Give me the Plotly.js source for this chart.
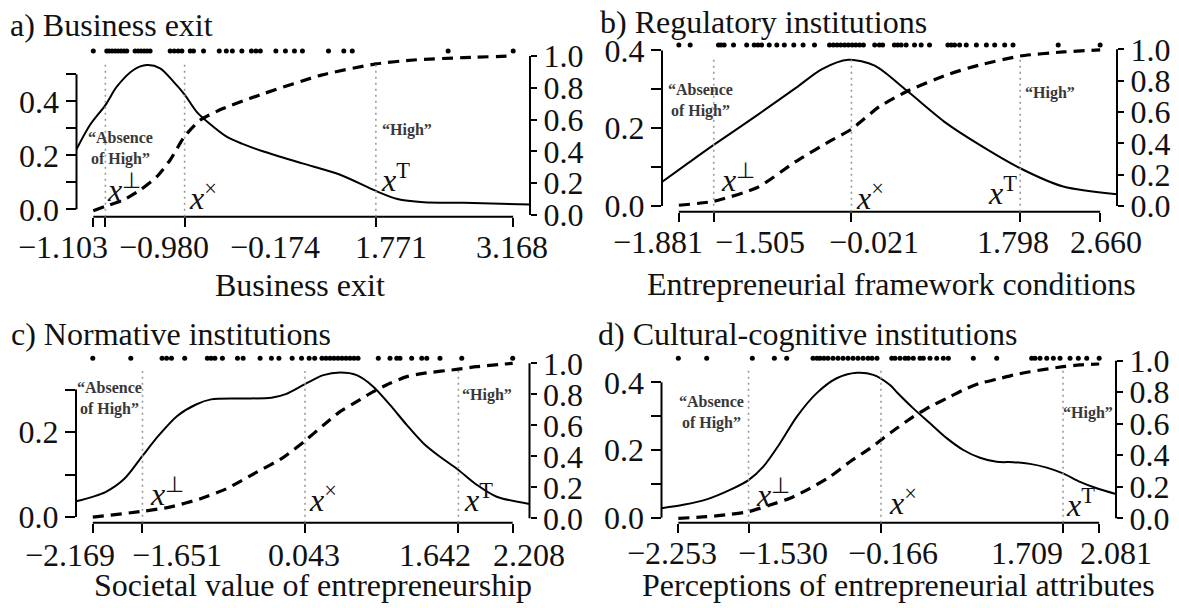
<!DOCTYPE html>
<html>
<head>
<meta charset="utf-8">
<script src="https://cdn.plot.ly/plotly-3.0.1.min.js"></script>
<style>
html, body { margin: 0; padding: 0; background: #ffffff; }
#chart { width: 1179px; height: 608px; }
</style>
</head>
<body>
<div id="chart"></div>
<script>
// ------------------------------------------------------------------ data
const panelTitles = ['a) Business exit', 'b) Regulatory institutions', 'c) Normative institutions', 'd) Cultural-cognitive institutions'];
const xAxisTitles = ['Business exit', 'Entrepreneurial framework conditions', 'Societal value of entrepreneurship', 'Perceptions of entrepreneurial attributes'];

// x ticks: minimum, x⊥ ("absence of high"), x× (crossover), xT ("high"), maximum
const ticksA = [-1.103, -0.980, -0.174, 1.771, 3.168];
const ticksB = [-1.881, -1.505, -0.021, 1.798, 2.660];
const ticksC = [-2.169, -1.651, 0.043, 1.642, 2.208];
const ticksD = [-2.253, -1.530, -0.166, 1.709, 2.081];
const tickLabelsA = ['\u22121.103', '\u22120.980', '\u22120.174', '1.771', '3.168'];
const tickLabelsB = ['\u22121.881', '\u22121.505', '\u22120.021', '1.798', '2.660'];
const tickLabelsC = ['\u22122.169', '\u22121.651', '0.043', '1.642', '2.208'];
const tickLabelsD = ['\u22122.253', '\u22121.530', '\u22120.166', '1.709', '2.081'];

// left axis (density): labelled ticks and unlabelled minor ticks
const densMajorA = [0, 0.2, 0.4];
const densMinorA = [0.1, 0.3, 0.5];
const densMajorB = [0, 0.2, 0.4];
const densMinorB = [0.1, 0.3];
const densMajorC = [0, 0.2];
const densMinorC = [0.1, 0.3];
const densMajorD = [0, 0.2, 0.4];
const densMinorD = [0.1, 0.3];
const densMajorLabels = ['0.0', '0.2', '0.4'];
// right axis (cumulative) ticks
const cdfTicks = [0, 0.2, 0.4, 0.6, 0.8, 1.0];
const cdfTickLabels = ['0.0', '0.2', '0.4', '0.6', '0.8', '1.0'];

// density curves
const densXA = [-1.274, -1.137, -0.980, -0.864, -0.695, -0.559, -0.423, -0.288, -0.174, -0.049, 0.087, 0.257, 0.408, 0.637, 1.024, 1.408, 1.771, 1.990, 2.258, 2.666, 3.339];
const densYA = [0.222, 0.312, 0.386, 0.454, 0.516, 0.534, 0.522, 0.473, 0.425, 0.360, 0.315, 0.268, 0.243, 0.213, 0.170, 0.128, 0.068, 0.038, 0.026, 0.024, 0.018];
const densXB = [-2.063, -1.800, -1.505, -1.028, -0.623, -0.338, -0.054, 0.230, 0.569, 1.001, 1.361, 1.798, 2.262, 2.842];
const densYB = [0.062, 0.107, 0.157, 0.235, 0.303, 0.352, 0.376, 0.361, 0.298, 0.213, 0.157, 0.097, 0.050, 0.030];
const densXC = [-2.344, -2.037, -1.840, -1.651, -1.486, -1.289, -1.093, -0.936, -0.622, -0.307, -0.150, 0.043, 0.234, 0.408, 0.582, 0.755, 0.929, 1.103, 1.276, 1.450, 1.642, 1.833, 2.041, 2.383];
const densYC = [0.037, 0.059, 0.090, 0.144, 0.191, 0.238, 0.265, 0.277, 0.279, 0.281, 0.290, 0.313, 0.334, 0.340, 0.334, 0.307, 0.264, 0.217, 0.174, 0.142, 0.111, 0.076, 0.048, 0.031];
const densXD = [-2.426, -2.202, -1.961, -1.721, -1.530, -1.378, -1.206, -1.034, -0.828, -0.622, -0.416, -0.245, -0.073, 0.000, 0.167, 0.339, 0.511, 0.682, 0.854, 1.026, 1.197, 1.369, 1.541, 1.709, 1.884, 2.056, 2.254];
const densYD = [0.028, 0.038, 0.054, 0.082, 0.111, 0.151, 0.220, 0.298, 0.368, 0.412, 0.428, 0.422, 0.392, 0.370, 0.323, 0.279, 0.235, 0.200, 0.177, 0.165, 0.164, 0.159, 0.148, 0.131, 0.106, 0.087, 0.070];

// cumulative curves
const cdfXA = [-1.103, -0.980, -0.797, -0.627, -0.457, -0.321, -0.174, -0.015, 0.222, 0.494, 0.637, 1.216, 1.771, 2.156, 2.666, 3.168];
const cdfYA = [0.027, 0.055, 0.094, 0.157, 0.241, 0.346, 0.495, 0.597, 0.671, 0.734, 0.765, 0.880, 0.950, 0.975, 0.990, 1.000];
const cdfXB = [-1.881, -1.505, -1.028, -0.623, -0.257, -0.021, 0.280, 0.569, 1.001, 1.361, 1.798, 2.262, 2.660];
const cdfYB = [0.005, 0.030, 0.120, 0.283, 0.412, 0.490, 0.634, 0.729, 0.836, 0.900, 0.957, 0.983, 0.996];
const cdfXC = [-2.169, -1.651, -1.368, -1.054, -0.778, -0.465, -0.189, 0.043, 0.234, 0.408, 0.582, 0.755, 0.929, 1.103, 1.276, 1.642, 1.833, 2.208];
const cdfYC = [0.008, 0.045, 0.072, 0.125, 0.190, 0.296, 0.390, 0.500, 0.600, 0.688, 0.752, 0.817, 0.871, 0.914, 0.935, 0.962, 0.978, 1.000];
const cdfXD = [-2.253, -1.961, -1.721, -1.530, -1.309, -1.103, -0.897, -0.691, -0.485, -0.279, -0.166, -0.004, 0.167, 0.339, 0.511, 0.682, 0.854, 1.026, 1.197, 1.369, 1.709, 1.884, 2.081];
const cdfYD = [0.000, 0.010, 0.025, 0.042, 0.084, 0.127, 0.190, 0.264, 0.359, 0.444, 0.497, 0.571, 0.645, 0.708, 0.761, 0.814, 0.857, 0.882, 0.909, 0.930, 0.962, 0.973, 0.979];

// observations (rug of dots along the top)
const rugA = [-1.103, -0.966, -0.942, -0.912, -0.881, -0.851, -0.820, -0.790, -0.763, -0.678, -0.647, -0.617, -0.586, -0.556, -0.525, -0.321, -0.280, -0.240, -0.202, -0.117, -0.084, 0.018, 0.178, 0.250, 0.311, 0.408, 0.505, 0.551, 0.596, 0.754, 0.851, 0.943, 1.024, 1.289, 1.445, 1.531, 2.506, 3.168];
const rugB = [-1.881, -1.759, -1.454, -1.426, -1.393, -1.292, -1.150, -1.069, -1.028, -0.988, -0.907, -0.825, -0.744, -0.642, -0.542, -0.419, -0.257, -0.216, -0.176, -0.135, -0.094, -0.054, -0.013, 0.027, 0.068, 0.108, 0.230, 0.280, 0.316, 0.442, 0.478, 0.515, 0.569, 0.659, 0.731, 0.821, 1.019, 1.055, 1.091, 1.145, 1.217, 1.326, 1.434, 1.523, 1.631, 1.721, 2.208, 2.660];
const rugC = [-2.169, -1.773, -1.447, -1.400, -1.349, -1.211, -0.975, -0.936, -0.896, -0.818, -0.661, -0.602, -0.425, -0.307, -0.229, -0.091, 0.007, 0.086, 0.144, 0.220, 0.262, 0.304, 0.345, 0.387, 0.429, 0.470, 0.512, 0.554, 0.596, 0.807, 0.929, 0.999, 1.033, 1.155, 1.260, 1.312, 1.450, 1.677, 2.208];
const rugD = [-2.253, -1.961, -1.491, -1.264, -1.137, -0.866, -0.825, -0.794, -0.753, -0.712, -0.660, -0.609, -0.557, -0.506, -0.454, -0.403, -0.351, -0.300, -0.258, -0.207, -0.055, -0.021, 0.030, 0.082, 0.116, 0.167, 0.236, 0.270, 0.339, 0.408, 0.476, 0.528, 0.785, 1.026, 1.386, 1.420, 1.472, 1.541, 1.609, 1.678, 1.781, 1.866, 1.953, 2.081];

const markerLabels = ['<i>x</i><sup>\u22A5</sup>', '<i>x</i><sup>\u00D7</sup>', '<i>x</i><sup>T</sup>'];
const absenceLabel = '\u201CAbsence<br>of High\u201D';
const highLabel = '\u201CHigh\u201D';

// ------------------------------------------------------------------ layout geometry (pixels)
const W = 1179, H = 608;
const FONT = 'Liberation Serif, Times New Roman, serif';

const geom = [
  { L: 76.5, R: 530, B: 216.7, T: 43, d0: 209.3, dpx: 270, c0: 215, cpx: 159, rug: 51,
    title: [7.5, 25], axTitle: [300, 285], tickLabX: [62.5, 164, 274.5, 390.6, 512], tickLabY: 246.7,
    absence: [120.7, 149], high: [406.7, 130],
    xl: [[105, 188, 'left'], [187, 196, 'left'], [378.7, 178, 'left']] },
  { L: 662, R: 1117, B: 211.7, T: 37, d0: 206, dpx: 389, c0: 206, cpx: 156.7, rug: 45,
    title: [597.6, 22], axTitle: [891, 284], tickLabX: [657.6, 759.7, 873.5, 1012.5, 1106.3], tickLabY: 242.4,
    absence: [700, 100.5], high: [1049.5, 92.5],
    xl: [[719, 178, 'left'], [854, 196, 'left'], [1019, 191, 'right']] },
  { L: 76, R: 529.5, B: 522.7, T: 350, d0: 517.1, dpx: 425, c0: 518.3, cpx: 155, rug: 358.3,
    title: [9.4, 334], axTitle: [312.8, 585], tickLabX: [69.7, 177.2, 304.2, 435.4, 528.5], tickLabY: 555.2,
    absence: [109.3, 398.3], high: [486.5, 394.7],
    xl: [[148.4, 492, 'left'], [307, 498, 'left'], [462, 498, 'left']] },
  { L: 661.5, R: 1116, B: 522.7, T: 350, d0: 517.7, dpx: 338.5, c0: 518.3, cpx: 157.6, rug: 358.3,
    title: [595.7, 334], axTitle: [898.6, 585], tickLabX: [671.9, 782.5, 892.6, 1026.6, 1116.4], tickLabY: 553.3,
    absence: [711.7, 412], high: [1088.3, 413.3],
    xl: [[753.7, 493, 'left'], [887, 501, 'left'], [1063.7, 503, 'left']] }
];

const panels = [
  { ticks: ticksA, tickLabels: tickLabelsA, major: densMajorA, minor: densMinorA, dx: densXA, dy: densYA, cx: cdfXA, cy: cdfYA, rug: rugA },
  { ticks: ticksB, tickLabels: tickLabelsB, major: densMajorB, minor: densMinorB, dx: densXB, dy: densYB, cx: cdfXB, cy: cdfYB, rug: rugB },
  { ticks: ticksC, tickLabels: tickLabelsC, major: densMajorC, minor: densMinorC, dx: densXC, dy: densYC, cx: cdfXC, cy: cdfYC, rug: rugC },
  { ticks: ticksD, tickLabels: tickLabelsD, major: densMajorD, minor: densMinorD, dx: densXD, dy: densYD, cx: cdfXD, cy: cdfYD, rug: rugD }
];

// ------------------------------------------------------------------ build figure
const traces = [];
const layout = {
  width: W, height: H,
  margin: { l: 0, r: 0, t: 0, b: 0 },
  paper_bgcolor: '#ffffff', plot_bgcolor: 'rgba(0,0,0,0)',
  showlegend: false,
  font: { family: FONT, size: 32, color: '#111111' },
  shapes: [], annotations: []
};
const px = v => v / W;
const py = v => 1 - v / H;

panels.forEach((p, i) => {
  const g = geom[i];
  const xa = i === 0 ? 'x' : 'x' + (i + 1);
  const ylId = 2 * i + 1, yrId = 2 * i + 2;
  const yl = ylId === 1 ? 'y' : 'y' + ylId;
  const yr = 'y' + yrId;
  const xMin = p.ticks[0], xMax = p.ticks[p.ticks.length - 1];
  const pad = 0.04 * (xMax - xMin);
  const cdfLow = (g.c0 - g.B) / g.cpx;
  const densTop = Math.max(...p.major, ...p.minor);

  traces.push({ x: p.dx, y: p.dy, xaxis: xa, yaxis: yl, type: 'scatter', mode: 'lines',
    line: { color: '#000000', width: 2, shape: 'spline', smoothing: 0.8 }, hoverinfo: 'skip' });
  traces.push({ x: p.cx, y: p.cy, xaxis: xa, yaxis: yr, type: 'scatter', mode: 'lines',
    line: { color: '#000000', width: 3.2, dash: '11px,7px', shape: 'spline', smoothing: 0.6 }, hoverinfo: 'skip' });
  traces.push({ x: p.rug, y: p.rug.map(() => (g.c0 - g.rug) / g.cpx), xaxis: xa, yaxis: yr, type: 'scatter', mode: 'markers',
    marker: { color: '#000000', size: 5 }, cliponaxis: false, hoverinfo: 'skip' });

  layout[xa.replace('x', 'xaxis')] = {
    domain: [px(g.L), px(g.R)], range: [xMin - pad, xMax + pad], anchor: yl,
    tickmode: 'array', tickvals: p.ticks, ticktext: p.tickLabels, showticklabels: false,
    ticks: 'outside', ticklen: 9, tickwidth: 2, tickcolor: '#000000',
    showgrid: false, zeroline: false, showline: false, fixedrange: true
  };
  layout['yaxis' + (ylId === 1 ? '' : ylId)] = {
    domain: [py(g.B), py(g.T)], range: [(g.d0 - g.B) / g.dpx, (g.d0 - g.T) / g.dpx], anchor: xa,
    tickmode: 'array', tickvals: p.major, ticktext: densMajorLabels.slice(0, p.major.length),
    ticks: 'outside', ticklen: 10, tickwidth: 2, tickcolor: '#000000',
    minor: { tickmode: 'array', tickvals: p.minor, ticks: 'outside', ticklen: 10, tickwidth: 2, tickcolor: '#000000', showgrid: false },
    tickfont: { size: 32, family: FONT, color: '#111111' },
    showgrid: false, zeroline: false, showline: false, fixedrange: true
  };
  layout['yaxis' + yrId] = {
    overlaying: yl, side: 'right', anchor: xa,
    range: [cdfLow, (g.c0 - g.T) / g.cpx],
    tickmode: 'array', tickvals: cdfTicks, ticktext: cdfTickLabels,
    ticks: 'outside', ticklen: 6, tickwidth: 2, tickcolor: '#000000',
    tickfont: { size: 32, family: FONT, color: '#111111' },
    showgrid: false, zeroline: false, showline: false, fixedrange: true
  };

  // axis lines spanning only the tick range (R style)
  layout.shapes.push({ type: 'line', xref: xa, yref: 'paper', x0: xMin, x1: xMax, y0: py(g.B), y1: py(g.B),
    line: { color: '#000000', width: 2 } });
  layout.shapes.push({ type: 'line', xref: 'paper', yref: yl, x0: px(g.L), x1: px(g.L), y0: 0, y1: densTop,
    line: { color: '#000000', width: 2 } });
  layout.shapes.push({ type: 'line', xref: 'paper', yref: yr, x0: px(g.R), x1: px(g.R), y0: 0, y1: 1,
    line: { color: '#000000', width: 2 } });
  // dotted threshold lines
  [1, 2, 3].forEach(k => {
    layout.shapes.push({ type: 'line', xref: xa, yref: yr, x0: p.ticks[k], x1: p.ticks[k], y0: cdfLow, y1: 0.95,
      line: { color: '#9a9a9a', width: 1.6, dash: '2px,4px' } });
  });

  // panel title
  layout.annotations.push({ xref: 'paper', yref: 'paper', x: px(g.title[0]), y: py(g.title[1]), xanchor: 'left', yanchor: 'middle',
    text: panelTitles[i], showarrow: false, font: { size: 32, family: FONT, color: '#111111' } });
  // x-axis title
  layout.annotations.push({ xref: 'paper', yref: 'paper', x: px(g.axTitle[0]), y: py(g.axTitle[1]), xanchor: 'center', yanchor: 'middle',
    text: xAxisTitles[i], showarrow: false, font: { size: 32, family: FONT, color: '#111111' } });
  // x tick labels, spread out to avoid overlap as in the original
  p.ticks.forEach((t, k) => {
    layout.annotations.push({ xref: 'paper', yref: 'paper', x: px(g.tickLabX[k]), y: py(g.tickLabY), xanchor: 'center', yanchor: 'middle',
      text: p.tickLabels[k], showarrow: false, font: { size: 32, family: FONT, color: '#111111' } });
  });
  // region labels
  layout.annotations.push({ xref: 'paper', yref: 'paper', x: px(g.absence[0]), y: py(g.absence[1]), xanchor: 'center', yanchor: 'middle',
    text: '<b>' + absenceLabel + '</b>', showarrow: false, font: { size: 16, family: FONT, color: '#383838' } });
  layout.annotations.push({ xref: 'paper', yref: 'paper', x: px(g.high[0]), y: py(g.high[1]), xanchor: 'center', yanchor: 'middle',
    text: '<b>' + highLabel + '</b>', showarrow: false, font: { size: 16, family: FONT, color: '#383838' } });
  // threshold symbols
  g.xl.forEach((pos, k) => {
    layout.annotations.push({ xref: 'paper', yref: 'paper', x: px(pos[0]), y: py(pos[1]), xanchor: pos[2], yanchor: 'middle',
      text: markerLabels[k], showarrow: false, font: { size: 32, family: FONT, color: '#111111' } });
  });
});

Plotly.newPlot('chart', traces, layout, { staticPlot: true, displayModeBar: false });
</script>
</body>
</html>
